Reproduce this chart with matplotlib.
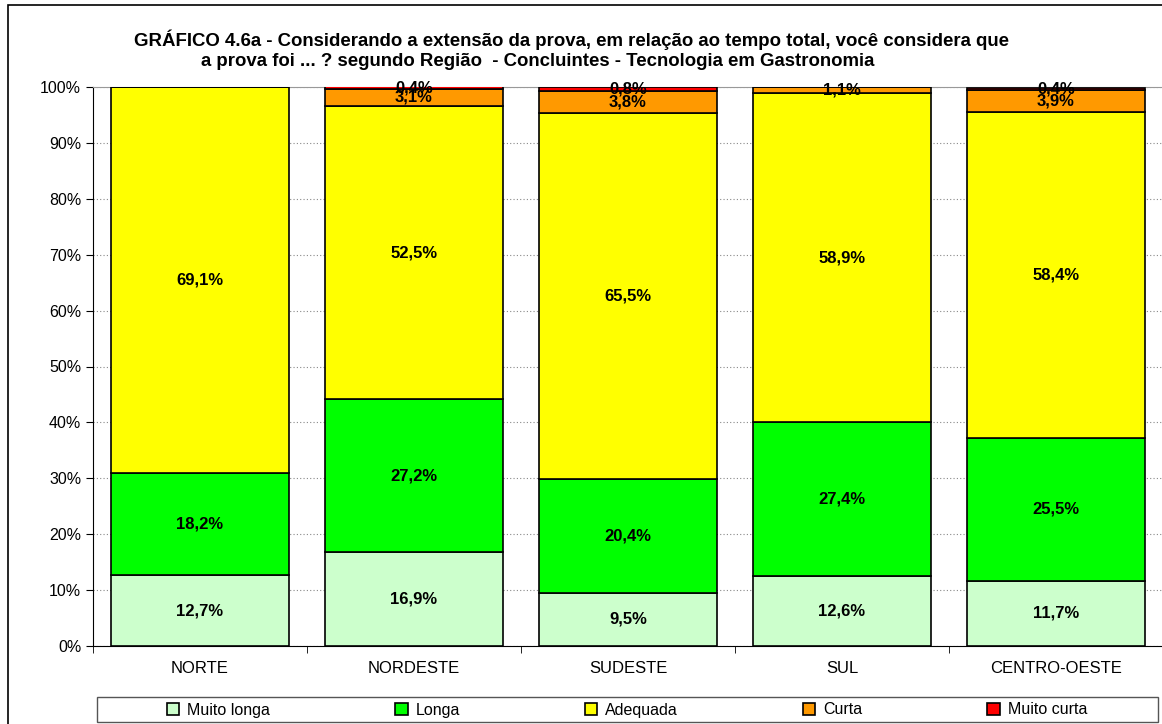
import matplotlib.pyplot as plt
import matplotlib.patches as mpatches
import numpy as np

plt.rcParams['font.family'] = ['Liberation Sans', 'DejaVu Sans']

regioes = ["NORTE", "NORDESTE", "SUDESTE", "SUL", "CENTRO-OESTE"]
categorias = ["Muito longa", "Longa", "Adequada", "Curta", "Muito curta"]
cores = ["#CCFFCC", "#00FF00", "#FFFF00", "#FF9900", "#FF0000"]

muito_longa = [12.7, 16.9, 9.5, 12.6, 11.7]
longa = [18.2, 27.2, 20.4, 27.4, 25.5]
adequada = [69.1, 52.5, 65.5, 58.9, 58.4]
curta = [0.0, 3.1, 3.8, 1.1, 3.9]
muito_curta = [0.0, 0.4, 0.8, 0.0, 0.4]

series = [muito_longa, longa, adequada, curta, muito_curta]

W, H = 1162, 724
fig = plt.figure(figsize=(W / 100, H / 100), dpi=100)
ax = fig.add_axes([93 / W, 1 - 646 / H, (1163 - 93) / W, (646 - 87) / H])

# moldura da figura
fig.patches.append(mpatches.Rectangle((8 / W, -0.1), 1.1, 1 - 5 / H + 0.1,
                                      transform=fig.transFigure, fill=False,
                                      edgecolor="black", linewidth=1.2))
# moldura da legenda
fig.patches.append(mpatches.Rectangle((97 / W, 1 - 722 / H), (1158 - 97) / W, 25 / H,
                                      transform=fig.transFigure, fill=False,
                                      edgecolor="#555555", linewidth=1.0))

x = np.arange(len(regioes))
base = np.zeros(len(regioes))
for nome, vals, cor in zip(categorias, series, cores):
    vals = np.array(vals)
    ax.bar(x, vals, 0.83, bottom=base, color=cor, edgecolor="black",
           linewidth=1.2, label=nome, zorder=3)
    for xi, b, v in zip(x, base, vals):
        if v > 0:
            ax.text(xi, b + v / 2, f"{v:.1f}%".replace(".", ","),
                    ha="center", va="center", fontsize=12,
                    fontweight="bold", zorder=4)
    base = base + vals

ax.set_xlim(-0.5, 4.5)
ax.set_ylim(0, 100)
ax.set_yticks(np.arange(0, 101, 10))
ax.set_yticklabels([f"{t}%" for t in range(0, 101, 10)], fontsize=11.5)
ax.set_xticks(x)
ax.set_xticklabels(regioes, fontsize=12)
ax.set_xticks(np.arange(-0.5, 4.6, 1), minor=True)
ax.tick_params(axis="x", which="major", length=0, pad=11)
ax.tick_params(axis="x", which="minor", length=5, direction="out")
ax.tick_params(axis="y", length=5, direction="out")
ax.grid(axis="y", linestyle=(0, (1, 2)), color="#888888", linewidth=0.8, zorder=0)

ax.spines["top"].set_color("#999999")
ax.spines["right"].set_color("#999999")
ax.spines["left"].set_color("black")
ax.spines["bottom"].set_color("black")

fig.text(571 / W, 1 - 40 / H,
         "GRÁFICO 4.6a - Considerando a extensão da prova, em relação ao tempo total, você considera que",
         ha="center", va="center", fontsize=13.4, fontweight="bold")
fig.text(538 / W, 1 - 62 / H,
         "a prova foi ... ? segundo Região  - Concluintes - Tecnologia em Gastronomia",
         ha="center", va="center", fontsize=13.4, fontweight="bold")

leg = fig.legend(loc="center", bbox_to_anchor=(627 / W, 1 - 710 / H),
                 ncol=5, fontsize=11.5, frameon=False,
                 handlelength=0.8, handleheight=0.8, handletextpad=0.5,
                 columnspacing=7.8, borderpad=0, borderaxespad=0)

fig.savefig("out.png", dpi=100)
